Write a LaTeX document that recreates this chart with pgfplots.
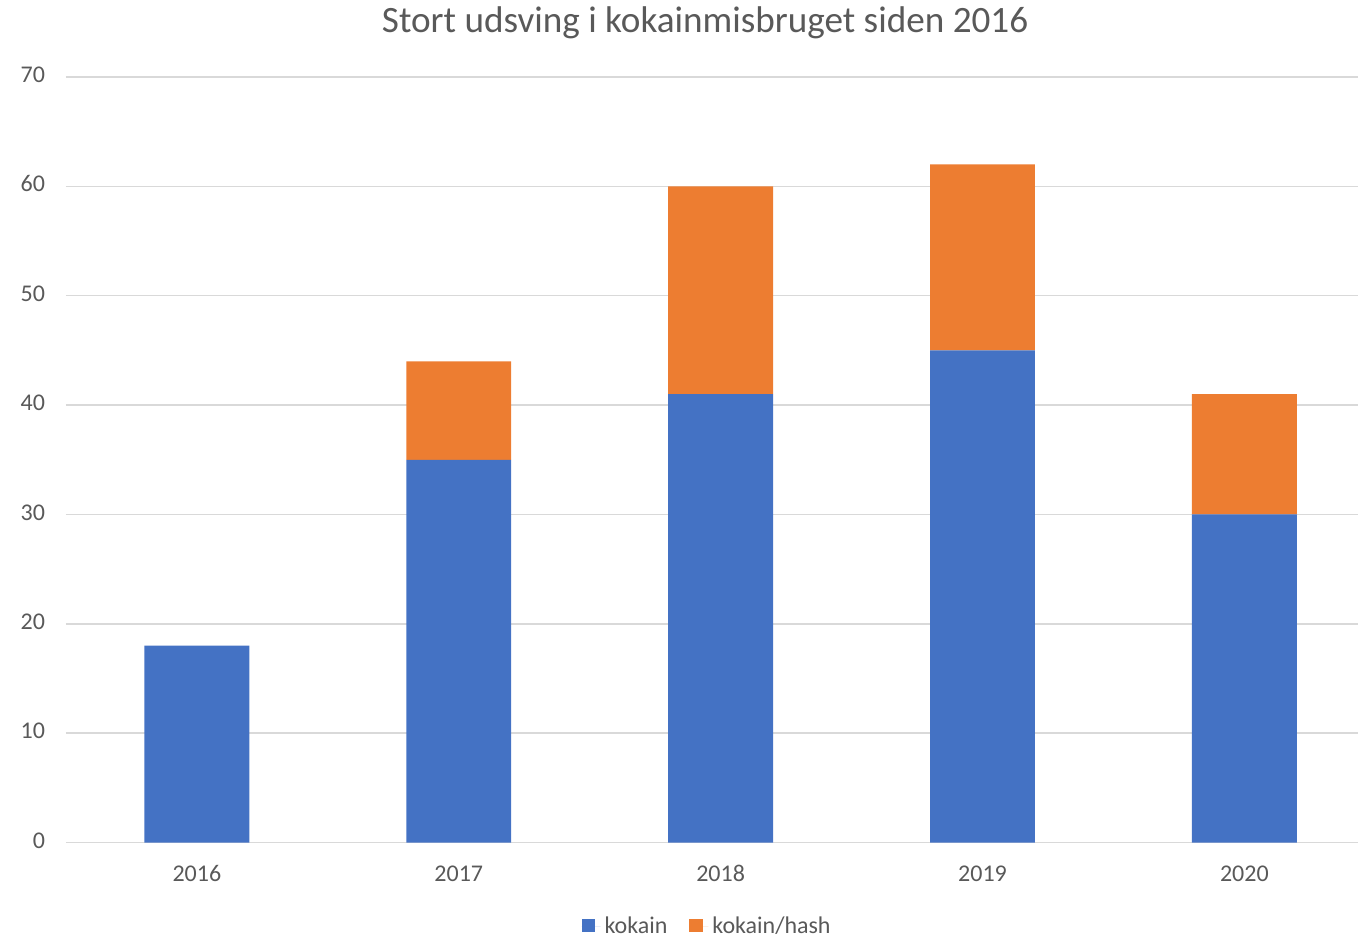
\documentclass[border=0pt]{standalone}
\usepackage{fontspec}
\setmainfont{Carlito}
\usepackage{pgfplots}
\pgfplotsset{compat=1.18}
\definecolor{kblue}{HTML}{4472C4}
\definecolor{korange}{HTML}{ED7D31}
\definecolor{gridgray}{HTML}{D9D9D9}
\definecolor{txtgray}{HTML}{595959}
\begin{document}
\begin{tikzpicture}
\begin{axis}[
    name=ax,
    scale only axis,
    width=646.5pt,
    height=383pt,
    ybar stacked,
    bar width=52.5pt,
    xmin=-0.5, xmax=4.435,
    ymin=0, ymax=70,
    ytick={0,10,...,70},
    xtick={0,1,2,3,4},
    xticklabels={2016,2017,2018,2019,2020},
    /pgf/number format/assume math mode=true,
    typeset ticklabels with strut,
    ymajorgrids,
    grid style={gridgray, line width=0.75pt},
    axis x line*=bottom,
    axis y line*=left,
    y axis line style={draw=none},
    x axis line style={gridgray, line width=0.75pt, -},
    major tick length=0pt,
    tick label style={font=\fontsize{12}{14}\selectfont, text=txtgray},
    yticklabel style={xshift=-7pt},
    xticklabel style={yshift=-6pt},
    title={Stort udsving i kokainmisbruget siden 2016},
    title style={font=\fontsize{18.6}{22}\selectfont, text=txtgray, anchor=center, at={(0.5,1)}, yshift=21pt, xshift=-3.5pt},
    legend style={at={(0.5,0)}, anchor=center, xshift=-2pt, yshift=-42pt, draw=none, fill=none,
        font=\fontsize{12}{14}\selectfont, text=txtgray,
        legend columns=2, /tikz/every even column/.append style={column sep=9pt}},
    legend image code/.code={\fill[#1] (0pt,-2.8pt) rectangle (6.6pt,3.8pt); \path (0pt,0pt) -- (9.5pt,0pt);},
]
\addplot[fill=kblue, draw=none] coordinates {(0,18) (1,35) (2,41) (3,45) (4,30)};
\addlegendentry{kokain}
\addplot[fill=korange, draw=none] coordinates {(0,0) (1,9) (2,19) (3,17) (4,11)};
\addlegendentry{kokain/hash}
\end{axis}
\path[draw=none] ([xshift=-33pt,yshift=-47.5pt]ax.south west) rectangle ([yshift=38.5pt]ax.north east);
\end{tikzpicture}
\end{document}
